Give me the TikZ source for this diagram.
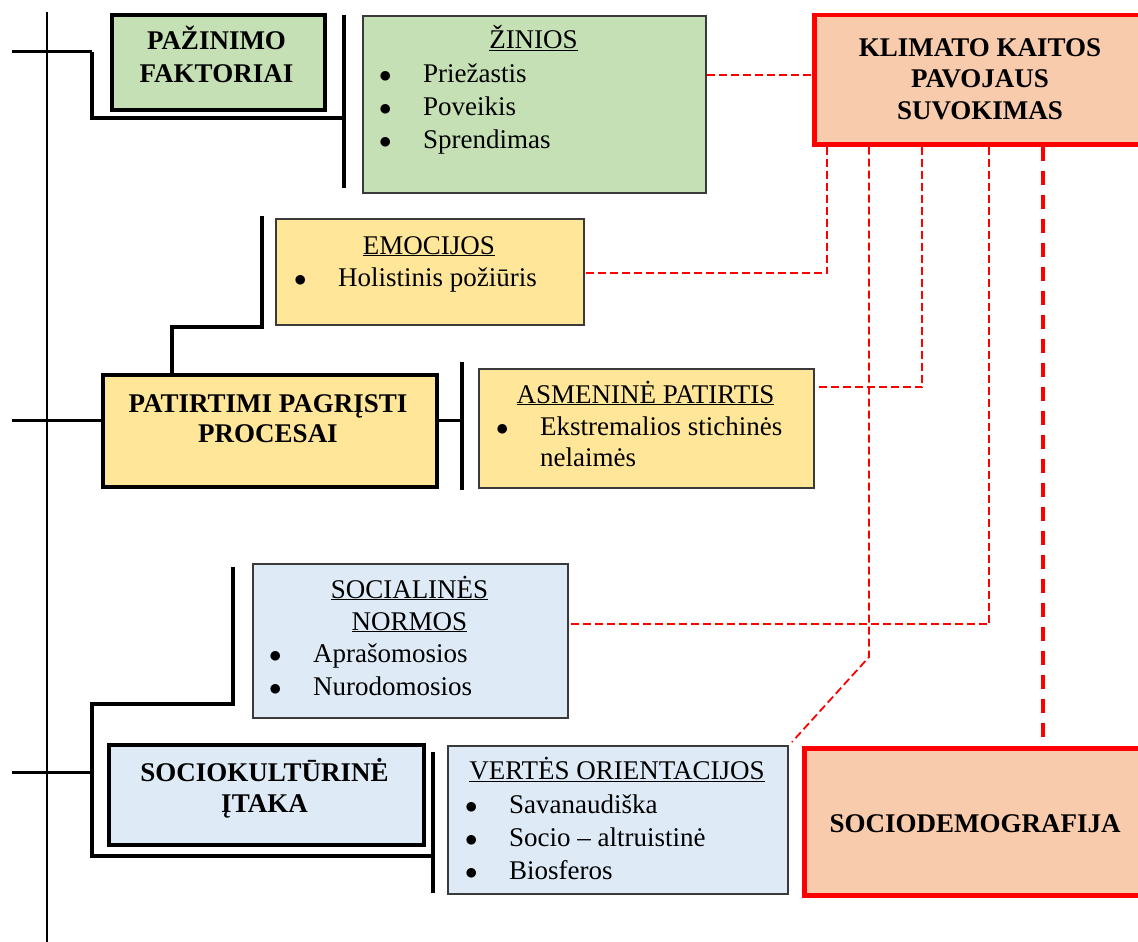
\documentclass[tikz,border=0pt]{standalone}
\usepackage{fontspec}
\setmainfont{Liberation Serif}
\definecolor{gr}{HTML}{C5E0B4}
\definecolor{ye}{HTML}{FFE699}
\definecolor{bl}{HTML}{DEEBF7}
\definecolor{orf}{HTML}{F8CBAD}
\definecolor{rd}{HTML}{FF0000}
\definecolor{bd}{HTML}{3A3A3A}
\newcommand{\blt}{\makebox[44pt][l]{$\bullet$}}
\begin{document}
\begin{tikzpicture}[x=1pt,y=-1pt,
  box/.style={draw=bd, line width=2pt, inner sep=0pt, anchor=north west},
  tbox/.style={draw=black, line width=4pt, inner sep=0pt, anchor=north west},
  rbox/.style={draw=rd, line width=4.5pt, fill=orf, inner sep=0pt, anchor=north west},
  txt/.style={inner sep=0pt, anchor=base, font=\fontsize{27}{33}\selectfont},
  bt/.style={inner sep=0pt, anchor=base, font=\fontsize{27}{33}\selectfont\bfseries},
  bline/.style={inner sep=0pt, anchor=base west, font=\fontsize{27}{33}\selectfont},
  lnk/.style={draw=rd, line width=1.8pt, dash pattern=on 8pt off 4pt},
  lnkb/.style={draw=rd, line width=4.5pt, dash pattern=on 14pt off 10pt},
  br/.style={line width=4pt},
  stub/.style={line width=3pt}]
\useasboundingbox (0,0) rectangle (1138,942);
\clip (0,0) rectangle (1138,942);

% named coordinates
\coordinate (d0) at (0,75);
\coordinate (d1) at (827,273);
\coordinate (d2) at (922,387);
\coordinate (d3) at (869,657);
\coordinate (d4) at (989,624);
\coordinate (d5) at (1043,0);
\coordinate (c2) at (172,327);
\coordinate (p3) at (460,420);

% boxes
\node[tbox, fill=gr, minimum width=213pt, minimum height=95pt] (paz) at (110,13) {};
\node[box, fill=gr, minimum width=343pt, minimum height=177pt] (zin) at (362,15) {};
\node[rbox, minimum width=336pt, minimum height=129pt] (klim) at (812,13) {};
\node[box, fill=ye, minimum width=308pt, minimum height=106pt] (emo) at (275,218) {};
\node[tbox, fill=ye, minimum width=334pt, minimum height=112pt] (pat) at (101,373) {};
\node[box, fill=ye, minimum width=335pt, minimum height=119pt] (asm) at (478,368) {};
\node[box, fill=bl, minimum width=315pt, minimum height=154pt] (soc) at (252,563) {};
\node[tbox, fill=bl, minimum width=315pt, minimum height=100pt] (skt) at (107,743) {};
\node[box, fill=bl, minimum width=340pt, minimum height=148pt] (ver) at (447,745) {};
\node[rbox, minimum width=346pt, minimum height=147pt] (sdem) at (802,746) {};

% black tree lines
\draw[line width=2pt] (47,12) -- (47,942);
\draw[stub] (12,52) -- (92,52);
\draw[br] (92,52) -- (92,118) -- (342,118);
\draw[br] (344,15) -- (344,188);
\draw[br] (262,216) -- (262,327) -- (c2) -- (c2 |- pat.north);
\draw[stub] (12,420) -- (pat.west |- p3);
\draw[stub] (pat.east |- p3) -- (p3);
\draw[br] (462,362) -- (462,490);
\draw[stub] (12,772) -- (92,772);
\draw[br] (233,567) -- (233,704) -- (92,704) -- (92,856) -- (435,856);
\draw[br] (433,752) -- (433,893);

% red dashed links
\draw[lnk] (zin.east |- d0) -- (klim.west |- d0);
\draw[lnk] (klim.south -| d1) -- (d1) -- (emo.east |- d1);
\draw[lnk] (klim.south -| d2) -- (d2) -- (asm.east |- d2);
\draw[lnk] (klim.south -| d3) -- (d3) -- ([shift={(3pt,3pt)}]ver.north east);
\draw[lnk] (klim.south -| d4) -- (d4) -- (soc.east |- d4);
\draw[lnkb] (klim.south -| d5) -- (sdem.north -| d5);

% texts
\node[bt] (pazT1) at (216.5,50) {PAŽINIMO};
\node[bt] (pazT2) at (216.5,82) {FAKTORIAI};
\node[bt] (klimT1) at (980,57) {KLIMATO KAITOS};
\node[bt] (klimT2) at (980,88) {PAVOJAUS};
\node[bt] (klimT3) at (980,119) {SUVOKIMAS};
\node[bt] (patT1) at (268,412) {PATIRTIMI PAGRĮSTI};
\node[bt] (patT2) at (268,442) {PROCESAI};
\node[bt] (sktT1) at (264.5,781) {SOCIOKULTŪRINĖ};
\node[bt] (sktT2) at (264.5,812) {ĮTAKA};
\node[bt] (sdemT) at (975,832) {SOCIODEMOGRAFIJA};

\node[txt] (zinT) at (533.5,49) {\underline{ŽINIOS}};
\node[bline] (zin1) at (379,82) {\blt Priežastis};
\node[bline] (zin2) at (379,115) {\blt Poveikis};
\node[bline] (zin3) at (379,148) {\blt Sprendimas};

\node[txt] (emoT) at (429,254) {\underline{EMOCIJOS}};
\node[bline] (emo1) at (294,286) {\blt Holistinis požiūris};

\node[txt] (asmT) at (645.5,403) {\underline{ASMENINĖ PATIRTIS}};
\node[bline] (asm1) at (496,435) {\blt Ekstremalios stichinės};
\node[bline] (asm2) at (540,466) {nelaimės};

\node[txt] (socT1) at (409.5,598) {\underline{SOCIALINĖS}};
\node[txt] (socT2) at (409.5,630) {\underline{NORMOS}};
\node[bline] (soc1) at (269,662) {\blt Aprašomosios};
\node[bline] (soc2) at (269,695) {\blt Nurodomosios};

\node[txt] (verT) at (617,779) {\underline{VERTĖS ORIENTACIJOS}};
\node[bline] (ver1) at (465,813) {\blt Savanaudiška};
\node[bline] (ver2) at (465,846) {\blt Socio – altruistinė};
\node[bline] (ver3) at (465,879) {\blt Biosferos};
\end{tikzpicture}
\end{document}
